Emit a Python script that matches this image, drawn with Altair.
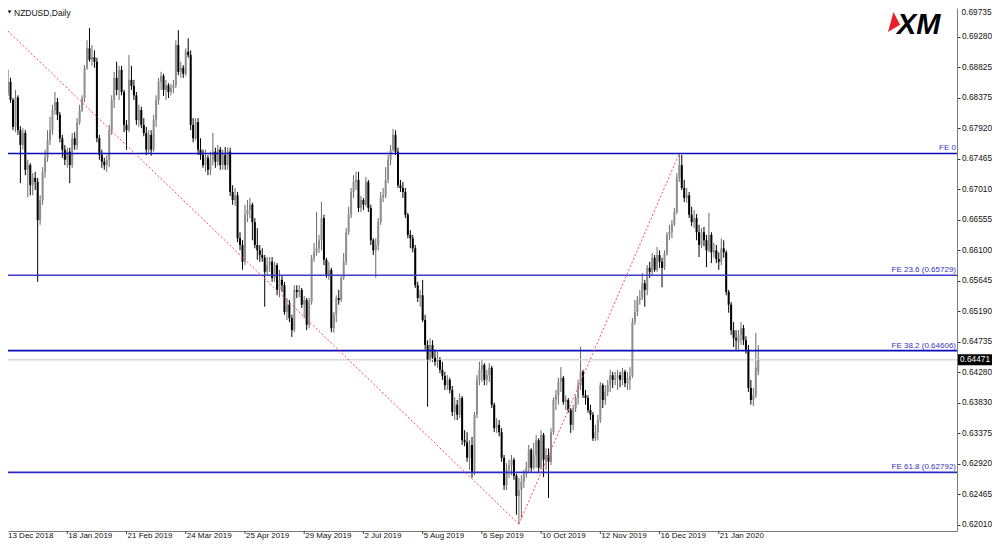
import altair as alt
import pandas as pd

# ---- daily candles (prices in pips, 1 pip = 0.0001) ----
opens_pips = [
 6844,6861,6834,6794,6838,6789,6767,6785,6730,6737,
 6707,6718,6712,6655,6685,6727,6748,6774,6789,6819,
 6831,6812,6777,6760,6745,6757,6737,6777,6767,6801,
 6819,6837,6882,6911,6894,6898,6891,6777,6752,6742,
 6737,6745,6789,6834,6867,6849,6879,6846,6797,6789,
 6864,6855,6841,6804,6819,6797,6785,6760,6782,6760,
 6804,6834,6861,6870,6849,6856,6846,6852,6856,6916,
 6876,6882,6873,6906,6901,6797,6777,6801,6760,6752,
 6737,6748,6730,6745,6757,6742,6760,6737,6752,6737,
 6757,6697,6685,6692,6628,6618,6593,6663,6670,6678,
 6652,6618,6610,6603,6599,6578,6588,6593,6569,6588,
 6551,6566,6558,6518,6529,6509,6491,6551,6548,6551,
 6529,6536,6499,6533,6599,6607,6613,6625,6658,6596,
 6573,6581,6494,6514,6539,6536,6569,6593,6637,6663,
 6697,6712,6715,6673,6685,6678,6712,6673,6625,6610,
 6618,6652,6689,6692,6715,6745,6760,6782,6757,6707,
 6703,6697,6663,6633,6628,6613,6558,6539,6543,6506,
 6469,6447,6469,6450,6444,6447,6432,6423,6409,6417,
 6402,6369,6380,6365,6390,6327,6324,6301,6320,6280,
 6365,6417,6432,6439,6417,6424,6435,6380,6345,6350,
 6339,6301,6260,6283,6290,6298,6274,6244,6253,6265,
 6277,6286,6313,6286,6305,6327,6286,6335,6298,6305,
 6295,6339,6387,6394,6414,6420,6384,6387,6372,6350,
 6375,6390,6409,6429,6394,6390,6372,6365,6330,6339,
 6357,6409,6387,6399,6409,6424,6417,6420,6424,6417,
 6429,6412,6417,6423,6503,6518,6536,6539,6561,6551,
 6584,6578,6599,6581,6603,6593,6584,6605,6633,6637,
 6649,6667,6718,6737,6703,6688,6692,6663,6652,6658,
 6637,6618,6637,6625,6610,6633,6607,6610,6597,6593,
 6613,6607,6548,6529,6491,6479,6473,6484,6494,6476,
 6462,6405,6387,6394,6429]

highs_pips = [
 6879,6867,6837,6849,6841,6795,6792,6789,6745,6740,
 6725,6727,6718,6692,6734,6760,6789,6809,6827,6846,
 6837,6816,6782,6767,6763,6763,6785,6786,6807,6827,
 6841,6886,6923,6941,6916,6908,6897,6782,6760,6748,
 6752,6797,6841,6876,6891,6885,6885,6849,6804,6901,
 6885,6864,6846,6827,6824,6807,6794,6789,6789,6812,
 6841,6867,6876,6873,6864,6859,6858,6864,6923,6938,
 6891,6886,6911,6926,6908,6807,6807,6807,6777,6760,
 6760,6752,6757,6785,6763,6767,6764,6760,6764,6763,
 6763,6707,6703,6697,6637,6625,6678,6685,6688,6681,
 6658,6643,6618,6613,6603,6600,6600,6600,6593,6591,
 6581,6573,6563,6539,6536,6514,6558,6558,6558,6554,
 6542,6539,6539,6603,6621,6667,6633,6682,6663,6599,
 6593,6584,6518,6543,6551,6573,6606,6643,6675,6703,
 6722,6727,6727,6691,6688,6719,6715,6678,6628,6628,
 6658,6697,6703,6734,6752,6767,6791,6789,6763,6715,
 6712,6703,6666,6640,6633,6618,6563,6551,6566,6514,
 6476,6479,6476,6462,6459,6451,6444,6429,6424,6420,
 6408,6391,6387,6397,6393,6342,6339,6327,6332,6369,
 6424,6444,6447,6442,6432,6442,6438,6383,6360,6357,
 6345,6305,6293,6298,6305,6301,6277,6271,6275,6283,
 6295,6320,6315,6323,6335,6330,6342,6338,6315,6315,
 6345,6391,6402,6420,6436,6423,6394,6390,6375,6380,
 6394,6417,6466,6432,6402,6394,6380,6369,6350,6365,
 6414,6412,6409,6417,6432,6429,6429,6432,6429,6435,
 6432,6429,6436,6509,6536,6542,6551,6576,6566,6588,
 6593,6606,6603,6615,6610,6599,6610,6637,6648,6655,
 6673,6725,6754.4,6752,6715,6703,6697,6675,6670,6664,
 6648,6643,6645,6633,6666,6637,6621,6618,6607,6628,
 6625,6610,6551,6533,6503,6491,6491,6503,6499,6482,
 6469,6417,6405,6487,6469]

lows_pips = [
 6840,6830,6789,6786,6782,6710,6760,6722,6689,6692,
 6692,6700,6563,6648,6678,6718,6742,6767,6782,6812,
 6804,6771,6748,6737,6733,6710,6733,6760,6760,6797,
 6816,6831,6879,6891,6885,6882,6771,6745,6733,6730,
 6727,6734,6782,6822,6841,6834,6841,6786,6760,6786,
 6849,6834,6797,6794,6792,6780,6752,6754,6751,6757,
 6794,6827,6849,6840,6834,6837,6841,6844,6852,6871,
 6867,6867,6870,6897,6789,6771,6774,6752,6745,6733,
 6727,6722,6722,6737,6733,6736,6730,6730,6730,6730,
 6691,6678,6676,6622,6610,6581,6588,6652,6658,6625,
 6613,6596,6593,6593,6526,6573,6578,6563,6563,6543,
 6540,6548,6514,6506,6503,6481,6488,6539,6540,6524,
 6509,6491,6494,6529,6593,6602,6606,6610,6588,6569,
 6566,6488,6487,6503,6529,6533,6566,6588,6633,6658,
 6688,6700,6667,6667,6670,6675,6667,6618,6603,6569,
 6610,6648,6682,6688,6710,6737,6757,6752,6703,6697,
 6688,6658,6628,6613,6607,6554,6533,6526,6503,6462,
 6377,6444,6444,6438,6435,6427,6417,6402,6402,6397,
 6363,6357,6357,6360,6320,6318,6295,6283,6271,6275,
 6360,6409,6414,6409,6409,6414,6375,6339,6338,6333,
 6295,6253,6253,6271,6275,6268,6216,6202,6211,6256,
 6271,6280,6280,6283,6286,6280,6283,6272,6283,6241,
 6290,6335,6372,6380,6399,6380,6372,6368,6338,6342,
 6369,6380,6402,6390,6380,6368,6357,6326,6326,6327,
 6353,6375,6380,6393,6399,6405,6409,6402,6406,6409,
 6406,6402,6402,6420,6499,6512,6529,6536,6526,6543,
 6569,6573,6578,6578,6584,6555,6581,6602,6625,6628,
 6646,6664,6712,6700,6682,6681,6658,6646,6643,6625,
 6600,6613,6616,6585,6607,6591,6599,6591,6581,6588,
 6599,6543,6517,6484,6466,6462,6462,6469,6469,6456,
 6399,6380,6378,6390,6424]

closes_pips = [
 6861,6834,6794,6838,6789,6767,6785,6730,6737,6707,
 6718,6712,6655,6685,6727,6748,6774,6789,6819,6831,
 6812,6777,6760,6745,6757,6737,6777,6767,6801,6819,
 6837,6882,6911,6894,6898,6891,6777,6752,6742,6737,
 6745,6789,6834,6867,6849,6879,6846,6797,6789,6864,
 6855,6841,6804,6819,6797,6785,6760,6782,6760,6804,
 6834,6861,6870,6849,6856,6846,6852,6856,6916,6876,
 6882,6873,6906,6901,6797,6777,6801,6760,6752,6737,
 6748,6730,6745,6757,6742,6760,6737,6752,6737,6757,
 6697,6685,6692,6628,6618,6593,6663,6670,6678,6652,
 6618,6610,6603,6599,6578,6588,6593,6569,6588,6551,
 6566,6558,6518,6529,6509,6491,6551,6548,6551,6529,
 6536,6499,6533,6599,6607,6613,6625,6658,6596,6573,
 6581,6494,6514,6539,6536,6569,6593,6637,6663,6697,
 6712,6715,6673,6685,6678,6712,6673,6625,6610,6618,
 6652,6689,6692,6715,6745,6760,6782,6757,6707,6703,
 6697,6663,6633,6628,6613,6558,6539,6543,6506,6469,
 6447,6469,6450,6444,6447,6432,6423,6409,6417,6402,
 6369,6380,6365,6390,6327,6324,6301,6320,6280,6365,
 6417,6432,6439,6417,6424,6435,6380,6345,6350,6339,
 6301,6260,6283,6290,6298,6274,6244,6253,6265,6277,
 6286,6313,6286,6305,6327,6286,6335,6298,6305,6295,
 6339,6387,6394,6414,6420,6384,6387,6372,6350,6375,
 6390,6409,6429,6394,6390,6372,6365,6330,6339,6357,
 6409,6387,6399,6409,6424,6417,6420,6424,6417,6429,
 6412,6420,6423,6503,6518,6536,6539,6561,6551,6584,
 6578,6599,6581,6603,6593,6584,6605,6633,6637,6649,
 6667,6718,6737,6703,6688,6692,6663,6652,6658,6637,
 6618,6637,6625,6610,6633,6607,6610,6597,6593,6613,
 6607,6548,6529,6491,6479,6476,6484,6494,6476,6462,
 6405,6387,6394,6435,6447.1]

# ---- axis text ----
date_labels = ["13 Dec 2018", "18 Jan 2019", "21 Feb 2019", "24 Mar 2019", "25 Apr 2019",
               "29 May 2019", "2 Jul 2019", "5 Aug 2019", "6 Sep 2019", "10 Oct 2019",
               "12 Nov 2019", "16 Dec 2019", "21 Jan 2020"]
label_bars = [0, 24, 48, 72, 96, 120, 144, 168, 192, 216, 240, 264, 288]
price_ticks = [0.69735, 0.69280, 0.68825, 0.68375, 0.67920, 0.67465, 0.67010, 0.66555,
               0.66100, 0.65645, 0.65190, 0.64735, 0.64280, 0.63830, 0.63375, 0.62920,
               0.62465, 0.62010]

# ---- Fibonacci expansion ----
fe_names = ["FE 0", "FE 23.6  (0.65729)", "FE 38.2  (0.64606)", "FE 61.8  (0.62792)"]
fe_levels = [0.67544, 0.65729, 0.64606, 0.62792]
fe_colors = ["#0a0ab8", "#3c3cd0", "#0a0ab8", "#2a2ac4"]
# trend points (bar index, price): A (off-chart left), B (low), C (high)
trend_bars = [-1.2, 207, 207, 272]
trend_prices = [0.6941, 0.6202, 0.6202, 0.67544]
trend_seg = ["AB", "AB", "BC", "BC"]
bid = 0.64471

assert len(opens_pips) == len(highs_pips) == len(lows_pips) == len(closes_pips)
n = len(closes_pips)
df = pd.DataFrame({
    "i": list(range(n)),
    "open": [v / 10000 for v in opens_pips],
    "high": [v / 10000 for v in highs_pips],
    "low": [v / 10000 for v in lows_pips],
    "close": [v / 10000 for v in closes_pips],
})
up = df["close"] >= df["open"]
df["body_col"] = ["#8e8e8e" if u else "#000000" for u in up]
df["wick_col"] = ["#6a6a6a" if u else "#000000" for u in up]

W, H = 949, 523
Y_TOP = 0.69711
xs = alt.Scale(domain=[2.005, 382.5], nice=False, zero=False)
ys = alt.Scale(domain=[0.61918, Y_TOP], nice=False, zero=False)
FONT = "Liberation Sans"

base = alt.Chart(df)

in_ticks = [v for v in price_ticks if v <= Y_TOP]
top_ticks = [f"{v:.5f}" for v in price_ticks if v > Y_TOP]

wicks = base.mark_rule(clip=True, strokeWidth=1).encode(
    x=alt.X("i:Q", scale=xs, axis=alt.Axis(domain=True, domainColor="#7a7a7a", labels=False,
                                           ticks=False, grid=False, title=None)),
    y=alt.Y("low:Q", scale=ys, axis=alt.Axis(orient="right", values=in_ticks, format=".5f",
                                             tickSize=3, tickColor="#333333", domainColor="#7a7a7a",
                                             labelFont=FONT, labelFontSize=8.3, labelColor="#111111",
                                             labelPadding=1.5, grid=False, title=None,
                                             labelOverlap=False, labelFlush=False)),
    y2="high:Q",
    color=alt.Color("wick_col:N", scale=None),
)
bodies = base.mark_bar(clip=True, size=2).encode(
    x=alt.X("i:Q", scale=xs, axis=None),
    y=alt.Y("open:Q", scale=ys, axis=None),
    y2="close:Q",
    color=alt.Color("body_col:N", scale=None),
)

# the topmost scale label sits just above the plotted range
top_df = pd.DataFrame({"t": top_ticks})
top_lab = alt.Chart(top_df).mark_text(align="left", baseline="middle", font=FONT, fontSize=8.3,
                                      color="#111111").encode(
    x=alt.value(W + 4.5), y=alt.value(5), text="t:N")

bid_df = pd.DataFrame({"price": [bid], "txt": [f"{bid:.5f}"]})
bid_line = alt.Chart(bid_df).mark_rule(color="#d8d8d8", strokeWidth=1.5).encode(
    y=alt.Y("price:Q", scale=ys, axis=None))
bid_box = alt.Chart(bid_df).mark_rule(color="#000000", strokeWidth=11, strokeCap="butt").encode(
    y=alt.Y("price:Q", scale=ys, axis=None), x=alt.value(950), x2=alt.value(984))
bid_txt = alt.Chart(bid_df).mark_text(align="left", baseline="middle", color="#ffffff",
                                      font=FONT, fontSize=8.3).encode(
    y=alt.Y("price:Q", scale=ys, axis=None), x=alt.value(952), text="txt:N")

fe_df = pd.DataFrame({"name": fe_names, "level": fe_levels, "col": fe_colors})
fe_lines = alt.Chart(fe_df).mark_rule(strokeWidth=1.6).encode(
    y=alt.Y("level:Q", scale=ys, axis=None), color=alt.Color("col:N", scale=None))
fe_text = alt.Chart(fe_df).mark_text(align="right", baseline="bottom", dy=-1, font=FONT,
                                     fontSize=8, color="#3434c4").encode(
    y=alt.Y("level:Q", scale=ys, axis=None), x=alt.value(948), text="name:N")

tr_df = pd.DataFrame({"bar": trend_bars, "price": trend_prices, "seg": trend_seg})
trend = alt.Chart(tr_df).mark_line(clip=True, color="#ff4a4a", strokeWidth=1,
                                   strokeDash=[2, 2]).encode(
    x=alt.X("bar:Q", scale=xs, axis=None), y=alt.Y("price:Q", scale=ys, axis=None),
    detail="seg:N")

lab_df = pd.DataFrame({"bar": label_bars, "lab": date_labels})
lab_main = alt.Chart(lab_df.iloc[1:]).mark_text(align="left", baseline="middle", dx=1,
                                               font=FONT, fontSize=8, color="#111111").encode(
    x=alt.X("bar:Q", scale=xs, axis=None), y=alt.value(H + 5), text="lab:N")
lab_first = alt.Chart(lab_df.iloc[:1]).mark_text(align="left", baseline="middle", font=FONT,
                                                fontSize=8, color="#111111").encode(
    x=alt.value(0), y=alt.value(H + 5), text="lab:N")
lab_ticks = alt.Chart(lab_df.iloc[1:]).mark_rule(color="#444444", strokeWidth=1).encode(
    x=alt.X("bar:Q", scale=xs, axis=None), y=alt.value(H), y2=alt.value(H + 3))

title_df = pd.DataFrame({"t": ["NZDUSD,Daily"]})
title_txt = alt.Chart(title_df).mark_text(align="left", baseline="middle", font=FONT,
                                          fontSize=8.5, color="#111111").encode(
    x=alt.value(6), y=alt.value(5), text="t:N")
title_tri = alt.Chart(title_df).mark_point(shape="triangle-down", filled=True, color="#000000",
                                           size=14, opacity=1).encode(
    x=alt.value(1.5), y=alt.value(4))

logo_df = pd.DataFrame({"t": ["XM"]})
logo_txt = alt.Chart(logo_df).mark_text(align="left", baseline="alphabetic", font=FONT,
                                        fontWeight="bold", fontStyle="italic", fontSize=29,
                                        color="#000000").encode(
    x=alt.value(889), y=alt.value(26), text="t:N")
logo_tri = alt.Chart(logo_df).mark_point(shape="M -0.05 -1 L 0.6 0.27 L -0.6 1 Z", filled=True,
                                         color="#e8202a", size=400, opacity=1,
                                         strokeWidth=0).encode(
    x=alt.value(886), y=alt.value(14))

chart = alt.layer(
    wicks, bid_line, bodies, fe_lines, trend, bid_box, bid_txt, fe_text, top_lab,
    lab_ticks, lab_main, lab_first, title_tri, title_txt, logo_tri, logo_txt,
).resolve_axis(
    x="independent", y="independent"
).properties(
    width=W, height=H,
    autosize=alt.AutoSizeParams(type="none"),
    padding={"left": 0, "top": 0, "right": 35, "bottom": 9},
    background="#ffffff",
).configure_view(stroke=None)

chart.save("out.html", embed_options={"renderer": "svg", "actions": False})
